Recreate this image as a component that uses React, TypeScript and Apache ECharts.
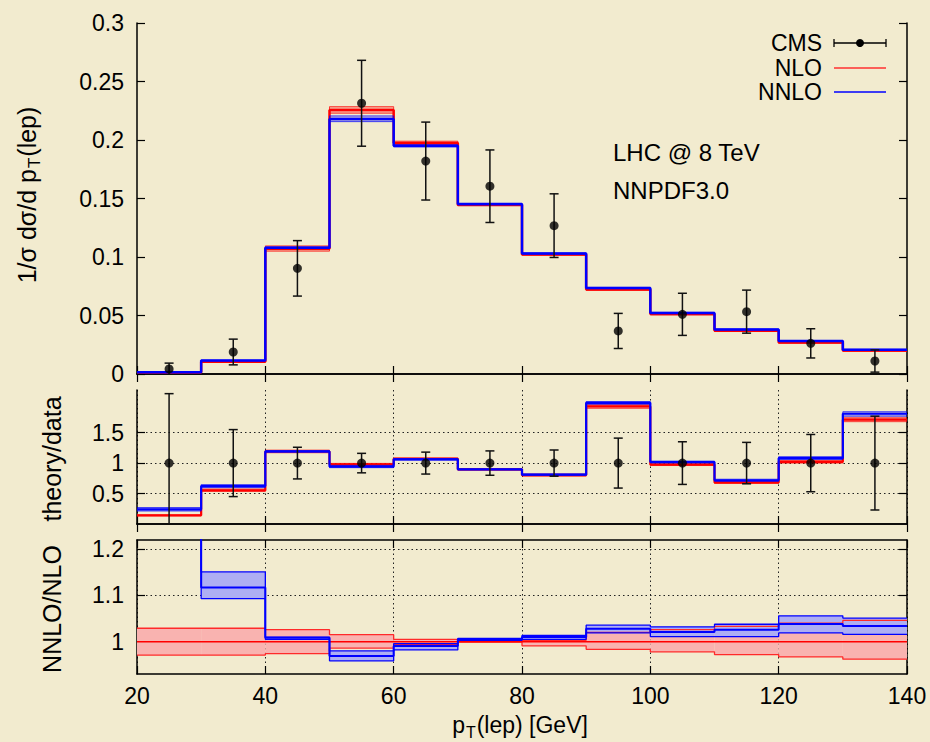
import React, { useEffect, useRef } from "react";
import * as echarts from "echarts";

// ---------- data ----------
const binEdges = [20, 30, 40, 50, 60, 70, 80, 90, 100, 110, 120, 130, 140];
const binCenters = [25, 35, 45, 55, 65, 75, 85, 95, 105, 115, 125, 135];

// top panel: 1/sigma dsigma/dpT
const cmsVal = [0.0043, 0.0188, 0.0903, 0.2314, 0.182, 0.1605, 0.1268, 0.0368, 0.051, 0.0533, 0.0262, 0.0111];
const cmsErr = [0.005, 0.011, 0.0237, 0.0367, 0.0333, 0.031, 0.0272, 0.015, 0.018, 0.0184, 0.0125, 0.0095];

const nloTop = [0.0012, 0.0105, 0.107, 0.2257, 0.1975, 0.1445, 0.1022, 0.0722, 0.0512, 0.037, 0.027, 0.02];
const nloTopLo = [0.0011, 0.0102, 0.105, 0.2229, 0.1962, 0.144, 0.1016, 0.0715, 0.0505, 0.0363, 0.0263, 0.0193];
const nloTopHi = [0.0013, 0.0108, 0.1095, 0.2285, 0.199, 0.1452, 0.103, 0.073, 0.0518, 0.0377, 0.0278, 0.0208];

const nnloTop = [0.0015, 0.0115, 0.108, 0.218, 0.195, 0.1452, 0.103, 0.0735, 0.0522, 0.038, 0.0282, 0.0207];
const nnloTopLo = [0.0014, 0.0112, 0.1072, 0.2157, 0.194, 0.1446, 0.1025, 0.073, 0.0518, 0.0376, 0.0278, 0.0203];
const nnloTopHi = [0.0016, 0.0118, 0.1086, 0.2206, 0.1958, 0.1457, 0.1035, 0.074, 0.0527, 0.0385, 0.0286, 0.0211];

// middle panel: theory/data
const dataRatio = [1, 1, 1, 1, 1, 1, 1, 1, 1, 1, 1, 1];
const dataRatioErr = [1.14, 0.55, 0.26, 0.16, 0.18, 0.2, 0.215, 0.41, 0.35, 0.34, 0.47, 0.77];

const nloRatio = [0.143, 0.552, 1.19, 0.98, 1.072, 0.897, 0.803, 1.93, 0.975, 0.683, 1.02, 1.712];
const nloRatioLo = [0.135, 0.536, 1.17, 0.962, 1.065, 0.885, 0.787, 1.9, 0.96, 0.665, 1.0, 1.68];
const nloRatioHi = [0.15, 0.574, 1.213, 0.995, 1.08, 0.906, 0.82, 1.957, 0.99, 0.7, 1.04, 1.744];

const nnloRatio = [0.241, 0.623, 1.192, 0.942, 1.062, 0.898, 0.81, 1.99, 1.016, 0.718, 1.08, 1.81];
const nnloRatioLo = [0.213, 0.597, 1.18, 0.925, 1.05, 0.89, 0.8, 1.967, 1.006, 0.7, 1.06, 1.77];
const nnloRatioHi = [0.27, 0.646, 1.203, 0.962, 1.075, 0.905, 0.82, 2.01, 1.033, 0.735, 1.105, 1.843];

// bottom panel: NNLO/NLO
const nloNorm = [1, 1, 1, 1, 1, 1, 1, 1, 1, 1, 1, 1];
const nloNormLo = [0.971, 0.971, 0.974, 0.986, 0.994, 0.999, 0.991, 0.9835, 0.978, 0.972, 0.967, 0.962];
const nloNormHi = [1.029, 1.029, 1.026, 1.015, 1.005, 1.002, 1.003, 1.02, 1.026, 1.033, 1.04, 1.046];

const nnloNorm = [1.38, 1.117, 1.0086, 0.969, 0.9906, 1.005, 1.01, 1.028, 1.021, 1.026, 1.038, 1.034];
const nnloNormLo = [1.35, 1.093, 1.005, 0.9585, 0.982, 1.003, 1.005, 1.019, 1.011, 1.011, 1.019, 1.0156];
const nnloNormHi = [1.41, 1.151, 1.01, 0.98, 0.9957, 1.007, 1.0135, 1.0356, 1.032, 1.0377, 1.056, 1.051];

// tick labels
const xTicks = [20, 40, 60, 80, 100, 120, 140];
const topTicks = [0, 0.05, 0.1, 0.15, 0.2, 0.25, 0.3];
const ratioTicks = [0.5, 1, 1.5];
const normTicks = [1, 1.1, 1.2];

// ---------- styling ----------
const FONT = '"Liberation Sans", Arial, Helvetica, sans-serif';
const RED = "#ff0000";
const BLUE = "#0000ff";
const RED_FILL_THIN = "rgba(255,0,0,0.28)";
const BLUE_FILL_THIN = "rgba(0,0,255,0.26)";
const RED_FILL = "#f9b3b0";
const BLUE_FILL = "#aeaef3";
const BG = "#f2ebcf";

const stepData = (vals: number[]) =>
  vals.map((v, i) => [binEdges[i], v]).concat([[binEdges[binEdges.length - 1], vals[vals.length - 1]]]);

const bandData = (lo: number[], hi: number[]) => lo.map((l, i) => [binEdges[i], binEdges[i + 1], l, hi[i]]);

const bandSeries = (lo: number[], hi: number[], fill: string, idx: number, z: number) => ({
  type: "custom",
  xAxisIndex: idx,
  yAxisIndex: idx,
  silent: true,
  z,
  clip: true,
  encode: { x: [0, 1], y: [2, 3] },
  data: bandData(lo, hi),
  renderItem: (params: any, api: any) => {
    const x0 = api.value(0), x1 = api.value(1), l = api.value(2), h = api.value(3);
    const p0 = api.coord([x0, h]);
    const p1 = api.coord([x1, l]);
    const cs = params.coordSys;
    const yT = Math.max(p0[1], cs.y);
    const yB = Math.min(p1[1], cs.y + cs.height);
    if (yB <= yT) return { type: "group", children: [] };
    return {
      type: "rect",
      shape: { x: p0[0], y: yT, width: p1[0] - p0[0], height: yB - yT },
      style: { fill },
    };
  },
});

const stepSeries = (vals: number[], color: string, width: number, idx: number, z: number) => ({
  type: "line",
  step: "end",
  xAxisIndex: idx,
  yAxisIndex: idx,
  data: stepData(vals),
  symbol: "none",
  silent: true,
  clip: true,
  z,
  lineStyle: { color, width },
});

const errSeries = (xs: number[], ys: number[], es: number[], idx: number, z: number) => ({
  type: "custom",
  xAxisIndex: idx,
  yAxisIndex: idx,
  silent: true,
  z,
  encode: { x: 0, y: 1 },
  data: xs.map((x, i) => [x, ys[i], es[i]]),
  renderItem: (params: any, api: any) => {
    const x = api.value(0), y = api.value(1), e = api.value(2);
    const cs = params.coordSys;
    const top = api.coord([x, y + e]);
    const bot = api.coord([x, y - e]);
    const yT = Math.max(top[1], cs.y);
    const yB = Math.min(bot[1], cs.y + cs.height);
    const st = { stroke: "#111", lineWidth: 1.5 };
    const children: any[] = [{ type: "line", shape: { x1: top[0], y1: yT, x2: top[0], y2: yB }, style: st }];
    if (top[1] >= cs.y) children.push({ type: "line", shape: { x1: top[0] - 4.5, y1: top[1], x2: top[0] + 4.5, y2: top[1] }, style: st });
    if (bot[1] <= cs.y + cs.height) children.push({ type: "line", shape: { x1: bot[0] - 4.5, y1: bot[1], x2: bot[0] + 4.5, y2: bot[1] }, style: st });
    return { type: "group", children };
  },
});

const pointSeries = (xs: number[], ys: number[], idx: number, z: number) => ({
  type: "scatter",
  xAxisIndex: idx,
  yAxisIndex: idx,
  silent: true,
  z,
  symbol: "circle",
  symbolSize: 9,
  itemStyle: { color: "#000" },
  data: xs.map((x, i) => [x, ys[i]]),
});

const axisLine = { show: true, lineStyle: { color: "#000", width: 1.5 } };
const tick = { show: true, inside: true, length: 8, lineStyle: { color: "#000", width: 1.2 } };
const labelStyle = { color: "#000", fontSize: 23, fontFamily: FONT };
const dotted = { show: true, lineStyle: { color: "#222", width: 1, type: [1.5, 3] as any } };
const fmt = (v: number) => String(+(+v).toFixed(3));

const grids = [
  { left: 137, right: 23, top: 23, height: 351 },
  { left: 137, right: 23, top: 390, height: 134 },
  { left: 137, right: 23, top: 540, height: 134 },
];

const makeX = (gridIndex: number, position: string, showLabel: boolean, split: boolean) => ({
  type: "value",
  gridIndex,
  position,
  min: 20,
  max: 140,
  interval: 20,
  axisLine,
  axisTick: { ...tick, customValues: xTicks },
  axisLabel: showLabel
    ? { ...labelStyle, margin: 10, customValues: xTicks, formatter: fmt }
    : { show: false },
  splitLine: split ? dotted : { show: false },
});

const makeY = (gridIndex: number, position: string, min: number, max: number, ticks: number[], showLabel: boolean, split: boolean) => ({
  type: "value",
  gridIndex,
  position,
  min,
  max,
  axisLine,
  axisTick: { ...tick, customValues: ticks },
  axisLabel: showLabel ? { ...labelStyle, margin: 13, customValues: ticks, formatter: fmt } : { show: false },
  splitLine: split ? dotted : { show: false },
});

const TITLE_SIZE = 25;
const richTitle = {
  n: { fontSize: TITLE_SIZE, fontFamily: FONT, color: "#000", lineHeight: 32 },
  s: { fontSize: 17, fontFamily: FONT, color: "#000", verticalAlign: "bottom", lineHeight: 17, padding: [13, 1, 0, 1] },
};
const richX = {
  n: { fontSize: 23, fontFamily: FONT, color: "#000", lineHeight: 30 },
  s: { fontSize: 16, fontFamily: FONT, color: "#000", verticalAlign: "bottom", lineHeight: 16, padding: [12, 1, 0, 1] },
};

export default function App() {
  const ref = useRef<HTMLDivElement>(null);
  useEffect(() => {
    document.body.style.margin = "0";
    if (!ref.current) return;
    const chart = echarts.init(ref.current, null, { renderer: "svg" });
    const txt = (text: string, x: number, y: number, align: string, size = 23) => ({
      type: "text", x, y, z: 50,
      style: { text, fontSize: size, fontFamily: FONT, fill: "#000", align, verticalAlign: "middle" },
    });
    const option: any = {
      animation: false,
      backgroundColor: BG,
      grid: grids,
      xAxis: [
        makeX(0, "bottom", false, false),
        makeX(0, "top", false, false),
        makeX(1, "bottom", false, true),
        makeX(1, "top", false, false),
        makeX(2, "bottom", true, true),
        makeX(2, "top", false, false),
      ],
      yAxis: [
        makeY(0, "left", 0, 0.3, topTicks, true, false),
        makeY(0, "right", 0, 0.3, topTicks, false, false),
        makeY(1, "left", 0, 2.2, ratioTicks, true, true),
        makeY(1, "right", 0, 2.2, ratioTicks, false, false),
        makeY(2, "left", 0.93, 1.22, normTicks, true, true),
        makeY(2, "right", 0.93, 1.22, normTicks, false, false),
      ],
      series: [
        // top
        bandSeries(nloTopLo, nloTopHi, RED_FILL_THIN, 0, 2),
        stepSeries(nloTopLo, "rgba(255,0,0,0.7)", 1, 0, 3),
        stepSeries(nloTopHi, "rgba(255,0,0,0.7)", 1, 0, 3),
        stepSeries(nloTop, RED, 2.5, 0, 4),
        bandSeries(nnloTopLo, nnloTopHi, BLUE_FILL_THIN, 0, 5),
        stepSeries(nnloTopLo, "rgba(0,0,255,0.7)", 1, 0, 6),
        stepSeries(nnloTopHi, "rgba(0,0,255,0.7)", 1, 0, 6),
        stepSeries(nnloTop, BLUE, 2.5, 0, 7),
        errSeries(binCenters, cmsVal, cmsErr, 0, 8),
        pointSeries(binCenters, cmsVal, 0, 9),
        // middle
        bandSeries(nloRatioLo, nloRatioHi, RED_FILL_THIN, 2, 2),
        stepSeries(nloRatioLo, "rgba(255,0,0,0.7)", 1, 2, 3),
        stepSeries(nloRatioHi, "rgba(255,0,0,0.7)", 1, 2, 3),
        stepSeries(nloRatio, RED, 2.2, 2, 4),
        bandSeries(nnloRatioLo, nnloRatioHi, BLUE_FILL_THIN, 2, 5),
        stepSeries(nnloRatioLo, "rgba(0,0,255,0.7)", 1, 2, 6),
        stepSeries(nnloRatioHi, "rgba(0,0,255,0.7)", 1, 2, 6),
        stepSeries(nnloRatio, BLUE, 2.2, 2, 7),
        errSeries(binCenters, dataRatio, dataRatioErr, 2, 8),
        pointSeries(binCenters, dataRatio, 2, 9),
        // bottom
        bandSeries(nloNormLo, nloNormHi, RED_FILL, 4, 2),
        bandSeries(nnloNormLo, nnloNormHi, BLUE_FILL, 4, 3),
        stepSeries(nloNormLo, "#ff2a2a", 1.3, 4, 4),
        stepSeries(nloNormHi, "#ff2a2a", 1.3, 4, 4),
        stepSeries(nloNorm, RED, 1.5, 4, 4),
        stepSeries(nnloNormLo, BLUE, 1.3, 4, 6),
        stepSeries(nnloNormHi, BLUE, 1.3, 4, 6),
        stepSeries(nnloNorm, BLUE, 2, 4, 7),
      ],
      graphic: [
        // legend
        txt("CMS", 822, 43, "right"),
        txt("NLO", 822, 68, "right"),
        txt("NNLO", 822, 92, "right"),
        { type: "line", z: 50, shape: { x1: 834, y1: 43, x2: 886, y2: 43 }, style: { stroke: "#000", lineWidth: 1.3 } },
        { type: "line", z: 50, shape: { x1: 834, y1: 39, x2: 834, y2: 47 }, style: { stroke: "#000", lineWidth: 1.3 } },
        { type: "line", z: 50, shape: { x1: 886, y1: 39, x2: 886, y2: 47 }, style: { stroke: "#000", lineWidth: 1.3 } },
        { type: "circle", z: 50, shape: { cx: 860, cy: 43, r: 4 }, style: { fill: "#000" } },
        { type: "line", z: 50, shape: { x1: 834, y1: 68, x2: 886, y2: 68 }, style: { stroke: "#ff3030", lineWidth: 1.5 } },
        { type: "line", z: 50, shape: { x1: 834, y1: 92, x2: 886, y2: 92 }, style: { stroke: BLUE, lineWidth: 1.5 } },
        // annotations
        txt("LHC @ 8 TeV", 613, 152, "left", 24),
        txt("NNPDF3.0", 613, 190, "left", 24),
        // axis titles
        {
          type: "text", x: 27, y: 195, rotation: Math.PI / 2, z: 50,
          style: { text: "{n|1/σ dσ/d p}{s|T}{n|(lep)}", rich: richTitle, align: "center", verticalAlign: "middle" },
        },
        {
          type: "text", x: 52, y: 459, rotation: Math.PI / 2, z: 50,
          style: { text: "theory/data", fontSize: TITLE_SIZE, fontFamily: FONT, fill: "#000", align: "center", verticalAlign: "middle" },
        },
        {
          type: "text", x: 52, y: 609, rotation: Math.PI / 2, z: 50,
          style: { text: "NNLO/NLO", fontSize: TITLE_SIZE, fontFamily: FONT, fill: "#000", align: "center", verticalAlign: "middle" },
        },
        {
          type: "text", x: 520, y: 725, z: 50,
          style: { text: "{n|p}{s|T}{n|(lep) [GeV]}", rich: richX, align: "center", verticalAlign: "middle" },
        },
      ],
    };
    chart.setOption(option);
    return () => chart.dispose();
  }, []);
  return <div ref={ref} style={{ width: 930, height: 742 }} />;
}
